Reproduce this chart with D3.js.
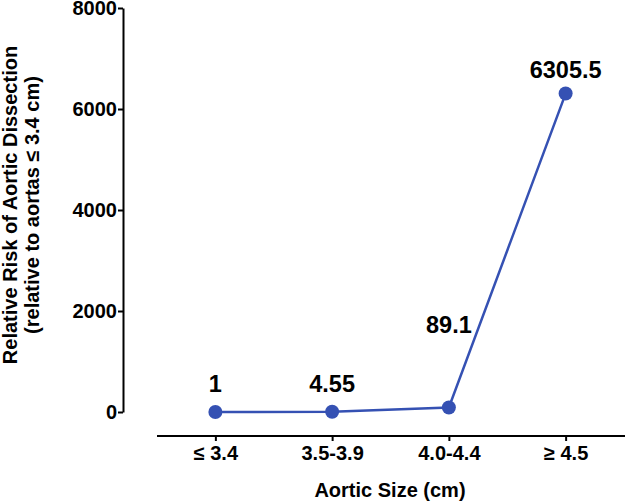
<!DOCTYPE html>
<html>
<head>
<meta charset="utf-8">
<script src="https://cdn.jsdelivr.net/npm/d3@7"></script>
<style>
  body { margin: 0; background: #fff; }
  text { font-family: "Liberation Sans", Arial, sans-serif; font-weight: bold; }
</style>
</head>
<body>
<div id="chart"></div>
<script>
// Data
const categories = ["\u2264 3.4", "3.5-3.9", "4.0-4.4", "\u2265 4.5"];
const riskValues = [1, 4.55, 89.1, 6305.5];
const valueLabels = ["1", "4.55", "89.1", "6305.5"];
const yTicks = [0, 2000, 4000, 6000, 8000];

const width = 625, height = 502;
const color = "#3551b3";

const svg = d3.select("#chart")
    .append("svg")
    .attr("width", width)
    .attr("height", height);

// Scales
const x = d3.scalePoint()
    .domain(categories)
    .range([157, 624])
    .padding(0.5);

const y = d3.scaleLinear()
    .domain([0, 8000])
    .range([412, 8]);

// Y axis
const yAxis = svg.append("g")
    .attr("transform", "translate(123,0)")
    .call(d3.axisLeft(y).tickValues(yTicks).tickFormat(d3.format("d"))
        .tickSize(5).tickSizeOuter(0).tickPadding(1));
yAxis.select(".domain").attr("stroke", "#000").attr("stroke-width", 2);
yAxis.selectAll(".tick line").attr("stroke", "#000").attr("stroke-width", 2);
yAxis.selectAll(".tick text")
    .style("font-size", "20px")
    .attr("fill", "#000");

// X axis
const xAxis = svg.append("g")
    .attr("transform", "translate(0,436)")
    .call(d3.axisBottom(x).tickSize(5).tickSizeOuter(0).tickPadding(5));
xAxis.select(".domain").attr("stroke", "#000").attr("stroke-width", 2)
    .attr("d", "M157,0H625");
xAxis.selectAll(".tick line").attr("stroke", "#000").attr("stroke-width", 2);
xAxis.selectAll(".tick text")
    .style("font-size", "20px")
    .attr("fill", "#000");

// Line
const data = categories.map((c, i) => ({cat: c, value: riskValues[i], label: valueLabels[i]}));

const line = d3.line()
    .x(d => x(d.cat))
    .y(d => y(d.value));

svg.append("path")
    .datum(data)
    .attr("fill", "none")
    .attr("stroke", color)
    .attr("stroke-width", 2.5)
    .attr("d", line);

svg.selectAll(".dot")
    .data(data)
    .enter()
    .append("circle")
    .attr("class", "dot")
    .attr("cx", d => x(d.cat))
    .attr("cy", d => y(d.value))
    .attr("r", 7)
    .attr("fill", color);

// Value labels (baseline offset above each point)
const labelOffsets = [-20, -20, -75, -16];
svg.selectAll(".vlabel")
    .data(data)
    .enter()
    .append("text")
    .attr("class", "vlabel")
    .attr("x", d => x(d.cat))
    .attr("y", (d, i) => y(d.value) + labelOffsets[i])
    .attr("text-anchor", "middle")
    .style("font-size", "23.5px")
    .attr("fill", "#000")
    .text(d => d.label);

// Axis titles
svg.append("text")
    .attr("x", 390)
    .attr("y", 497)
    .attr("text-anchor", "middle")
    .style("font-size", "20px")
    .text("Aortic Size (cm)");

const yTitle = svg.append("text")
    .attr("transform", "translate(0,205) rotate(-90)")
    .attr("text-anchor", "middle")
    .style("font-size", "20px");
yTitle.append("tspan").attr("x", 0).attr("y", 17).text("Relative Risk of Aortic Dissection");
yTitle.append("tspan").attr("x", 0).attr("y", 39).text("(relative to aortas \u2264 3.4 cm)");
</script>
</body>
</html>
